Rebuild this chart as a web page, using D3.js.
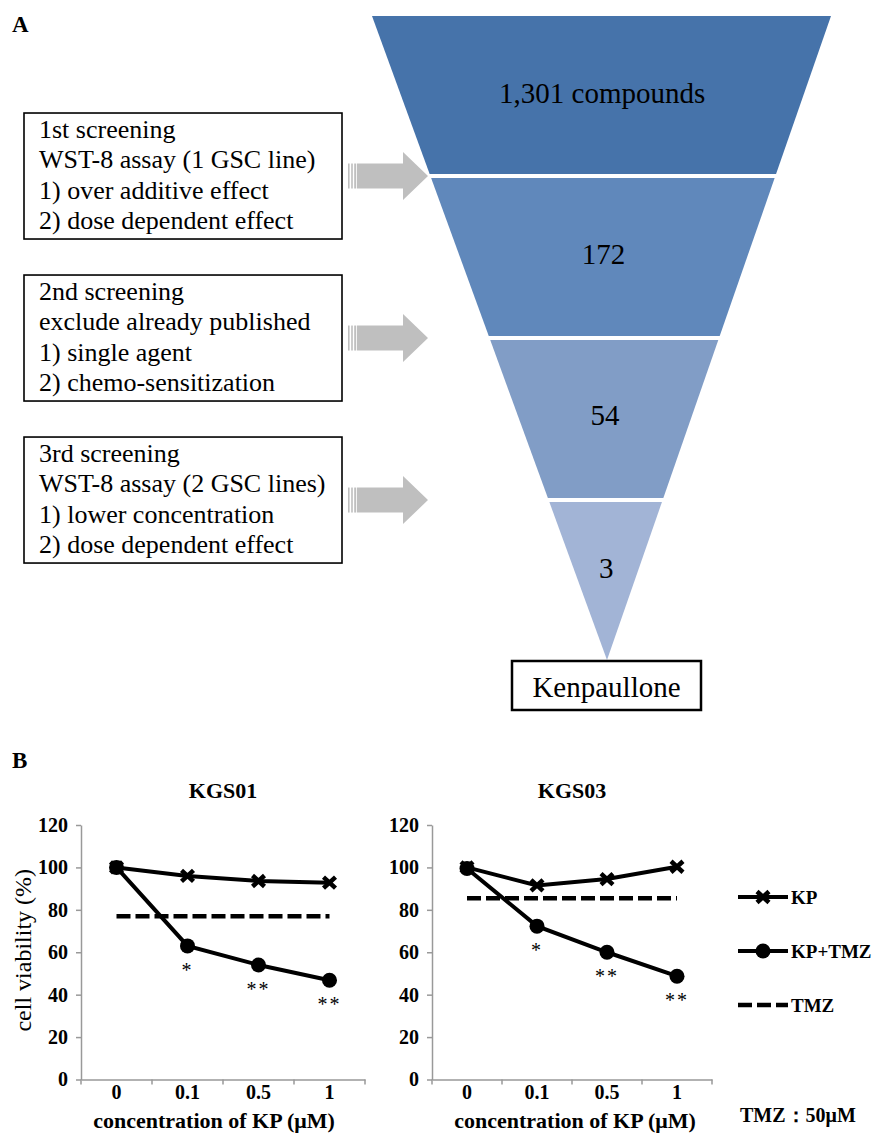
<!DOCTYPE html>
<html>
<head>
<meta charset="utf-8">
<script src="https://cdn.jsdelivr.net/npm/d3@7"></script>
<style>
  body { margin: 0; background: #fff; }
  svg { display: block; }
</style>
</head>
<body>
<svg id="fig" width="873" height="1141"></svg>
<script>
// ---- data ----
var funnelStages = ['1,301 compounds', '172', '54', '3'];
var funnelResult = 'Kenpaullone';
var screenings = [
  ['1st screening', 'WST-8 assay (1 GSC line)', '1) over additive effect', '2) dose dependent effect'],
  ['2nd screening', 'exclude already published', '1) single agent', '2) chemo-sensitization'],
  ['3rd screening', 'WST-8 assay (2 GSC lines)', '1) lower concentration', '2) dose dependent effect']
];

var concentrations = ['0', '0.1', '0.5', '1'];
var yTicks = [0, 20, 40, 60, 80, 100, 120];
var kgs01KP = [100, 96, 93.6, 92.8];
var kgs01KPTMZ = [100, 63, 54, 46.8];
var kgs01TMZ = 77;
var kgs03KP = [100, 91.5, 94.5, 100.3];
var kgs03KPTMZ = [99.5, 72.3, 60, 48.7];
var kgs03TMZ = 85.5;
var significance = ['', '*', '**', '**'];
var legendItems = ['KP', 'KP+TMZ', 'TMZ'];

var serif = 'Liberation Serif';
var svg = d3.select('#fig').attr('font-family', serif);

////////////////////////////////////////////////////////////////////
// panel A : screening funnel
svg.append('text').attr('x', 12).attr('y', 32).attr('font-family', serif)
  .attr('font-size', 23).attr('font-weight', 'bold').text('A');

var funnelTop = 16, funnelApex = 660;
var yStage = d3.scaleBand().domain(funnelStages).range([funnelTop, funnelApex]).paddingInner(0.025);
var leftEdge = d3.scaleLinear().domain([funnelTop, funnelApex]).range([372, 607]);
var rightEdge = d3.scaleLinear().domain([funnelTop, funnelApex]).range([831, 607]);
var stageColor = d3.scaleOrdinal().domain(funnelStages).range(['#4673aa', '#6088bb', '#819dc6', '#a2b4d6']);

var stage = svg.append('g').selectAll('g').data(funnelStages).enter().append('g');
stage.append('polygon')
  .attr('points', function (d) {
    var y0 = yStage(d), y1 = y0 + yStage.bandwidth();
    return [[leftEdge(y0), y0], [rightEdge(y0), y0], [rightEdge(y1), y1], [leftEdge(y1), y1]].join(' ');
  })
  .attr('fill', function (d) { return stageColor(d); });
stage.append('text')
  .attr('x', function (d) { var y = yStage(d) + yStage.bandwidth() / 2; return (leftEdge(y) + rightEdge(y)) / 2; })
  .attr('y', function (d) {
    // halfway between band middle and trapezoid centroid
    var y0 = yStage(d), h = yStage.bandwidth();
    var a = rightEdge(y0) - leftEdge(y0), b = rightEdge(y0 + h) - leftEdge(y0 + h);
    var c = h * (a + 2 * b) / (3 * (a + b));
    return y0 + (c + h / 2) / 2 + 10;
  })
  .attr('text-anchor', 'middle').attr('font-family', serif).attr('font-size', 29)
  .text(function (d) { return d; });

// result box under the apex
svg.append('rect').attr('x', 512).attr('y', 661).attr('width', 189).attr('height', 49)
  .attr('fill', '#fff').attr('stroke', '#000').attr('stroke-width', 2.5);
svg.append('text').attr('x', 606.5).attr('y', 697).attr('text-anchor', 'middle')
  .attr('font-family', serif).attr('font-size', 29).text(funnelResult);

// screening boxes, centred on the boundaries between stages
var boxes = svg.append('g').selectAll('g').data(screenings).enter().append('g')
  .attr('transform', function (d, i) {
    var cy = yStage(funnelStages[i + 1]) - 2;
    return 'translate(0,' + cy + ')';
  });
boxes.append('rect').attr('x', 24).attr('y', -63).attr('width', 318).attr('height', 126)
  .attr('fill', '#fff').attr('stroke', '#000').attr('stroke-width', 1.6);
boxes.selectAll('text').data(function (d) { return d; }).enter().append('text')
  .attr('x', 39).attr('y', function (d, j) { return -38.5 + j * 30.5; })
  .attr('font-family', serif).attr('font-size', 26).text(function (d) { return d; });

// grey striped arrows
boxes.each(function () {
  var g = d3.select(this);
  [[348, 1.6], [351.2, 1.6], [354.2, 2]].forEach(function (s) {
    g.append('rect').attr('x', s[0]).attr('y', -12.5).attr('width', s[1]).attr('height', 25).attr('fill', '#bfbfbf');
  });
  g.append('polygon')
    .attr('points', [[357, -12.5], [403, -12.5], [403, -24], [428, 0], [403, 24], [403, 12.5], [357, 12.5]].join(' '))
    .attr('fill', '#bfbfbf');
});

////////////////////////////////////////////////////////////////////
// panel B : viability curves
svg.append('text').attr('x', 12).attr('y', 768).attr('font-family', serif)
  .attr('font-size', 23).attr('font-weight', 'bold').text('B');

var y = d3.scaleLinear().domain([0, 120]).range([1079.5, 825]);

function drawChart(opts) {
  var x = d3.scaleBand().domain(concentrations).range(opts.range);
  var g = svg.append('g');
  var cx = function (d, i) { return x(concentrations[i]) + x.bandwidth() / 2; };

  // y axis
  var ya = g.append('g').attr('transform', 'translate(' + opts.range[0] + ',0)')
    .call(d3.axisLeft(y).tickValues(yTicks).tickSize(5).tickSizeOuter(0).tickPadding(8));
  // x axis: labels centred, tick marks on category boundaries
  var xa = g.append('g').attr('transform', 'translate(0,' + y(0) + ')')
    .call(d3.axisBottom(x).tickSize(0).tickPadding(5));
  xa.selectAll('.bound').data(concentrations.concat(['end'])).enter().append('line')
    .attr('class', 'bound')
    .attr('x1', function (d, i) { return opts.range[0] + i * x.step(); })
    .attr('x2', function (d, i) { return opts.range[0] + i * x.step(); })
    .attr('y1', 0).attr('y2', 5);
  [ya, xa].forEach(function (a) {
    a.attr('font-family', serif);
    a.selectAll('path,line').attr('stroke', '#999').attr('stroke-width', 1.5);
    a.selectAll('text').attr('font-family', serif).attr('font-size', 20)
      .attr('font-weight', 'bold').attr('fill', '#000');
  });

  // TMZ alone: dashed reference across the categories
  g.append('line')
    .attr('x1', cx(null, 0)).attr('x2', cx(null, concentrations.length - 1))
    .attr('y1', y(opts.tmz)).attr('y2', y(opts.tmz))
    .attr('stroke', '#000').attr('stroke-width', 4.5).attr('stroke-dasharray', '14 5');

  var line = d3.line().x(cx).y(function (d) { return y(d); });
  g.append('path').attr('d', line(opts.kp)).attr('fill', 'none').attr('stroke', '#000').attr('stroke-width', 4);
  g.append('path').attr('d', line(opts.kptmz)).attr('fill', 'none').attr('stroke', '#000').attr('stroke-width', 4);

  g.selectAll('.dot').data(opts.kptmz).enter().append('circle')
    .attr('cx', cx).attr('cy', function (d) { return y(d); }).attr('r', 7.5).attr('fill', '#000');
  g.selectAll('.cross').data(opts.kp).enter().append('path')
    .attr('transform', function (d, i) { return 'translate(' + cx(d, i) + ',' + y(d) + ')'; })
    .attr('d', 'M-6,-5.5L6,5.5M-6,5.5L6,-5.5')
    .attr('stroke', '#000').attr('stroke-width', 4.5);

  g.selectAll('.sig').data(opts.kptmz).enter().append('text')
    .attr('x', cx).attr('y', function (d) { return y(d) + 31; })
    .attr('text-anchor', 'middle').attr('font-family', serif).attr('font-size', 20).attr('letter-spacing', 2)
    .text(function (d, i) { return significance[i]; });

  g.append('text').attr('x', (opts.range[0] + opts.range[1]) / 2).attr('y', 798)
    .attr('text-anchor', 'middle').attr('font-family', serif).attr('font-size', 22).attr('font-weight', 'bold').text(opts.title);
  g.append('text').attr('x', opts.xTitleX).attr('y', 1128)
    .attr('text-anchor', 'middle').attr('font-family', serif).attr('font-size', 22).attr('font-weight', 'bold')
    .text('concentration of KP (μM)');
  return g;
}

drawChart({ title: 'KGS01', range: [81, 365], kp: kgs01KP, kptmz: kgs01KPTMZ, tmz: kgs01TMZ, xTitleX: 214 });
drawChart({ title: 'KGS03', range: [432, 712], kp: kgs03KP, kptmz: kgs03KPTMZ, tmz: kgs03TMZ, xTitleX: 575 });

svg.append('text')
  .attr('transform', 'translate(31,' + (y(60) - 2) + ') rotate(-90)')
  .attr('text-anchor', 'middle').attr('font-family', serif).attr('font-size', 24).text('cell viability (%)');

// legend
var legend = svg.append('g').selectAll('g').data(legendItems).enter().append('g')
  .attr('transform', function (d, i) { return 'translate(738,' + (897 + i * 54) + ')'; });
legend.append('line').attr('x1', 0).attr('x2', 50).attr('y1', 0).attr('y2', 0)
  .attr('stroke', '#000').attr('stroke-width', function (d) { return d === 'TMZ' ? 4.5 : 4; })
  .attr('stroke-dasharray', function (d) { return d === 'TMZ' ? '14 5' : null; });
legend.filter(function (d) { return d === 'KP'; }).append('path')
  .attr('transform', 'translate(25,0)').attr('d', 'M-6,-5.5L6,5.5M-6,5.5L6,-5.5')
  .attr('stroke', '#000').attr('stroke-width', 4.5);
legend.filter(function (d) { return d === 'KP+TMZ'; }).append('circle')
  .attr('cx', 25).attr('r', 7.5).attr('fill', '#000');
legend.append('text').attr('x', 53).attr('y', 7).attr('font-family', serif).attr('font-size', 19).attr('font-weight', 'bold')
  .text(function (d) { return d; });

svg.append('text').attr('x', 740).attr('y', 1122).attr('font-family', serif).attr('font-size', 20).attr('font-weight', 'bold')
  .text('TMZ：50μM');
</script>
</body>
</html>
